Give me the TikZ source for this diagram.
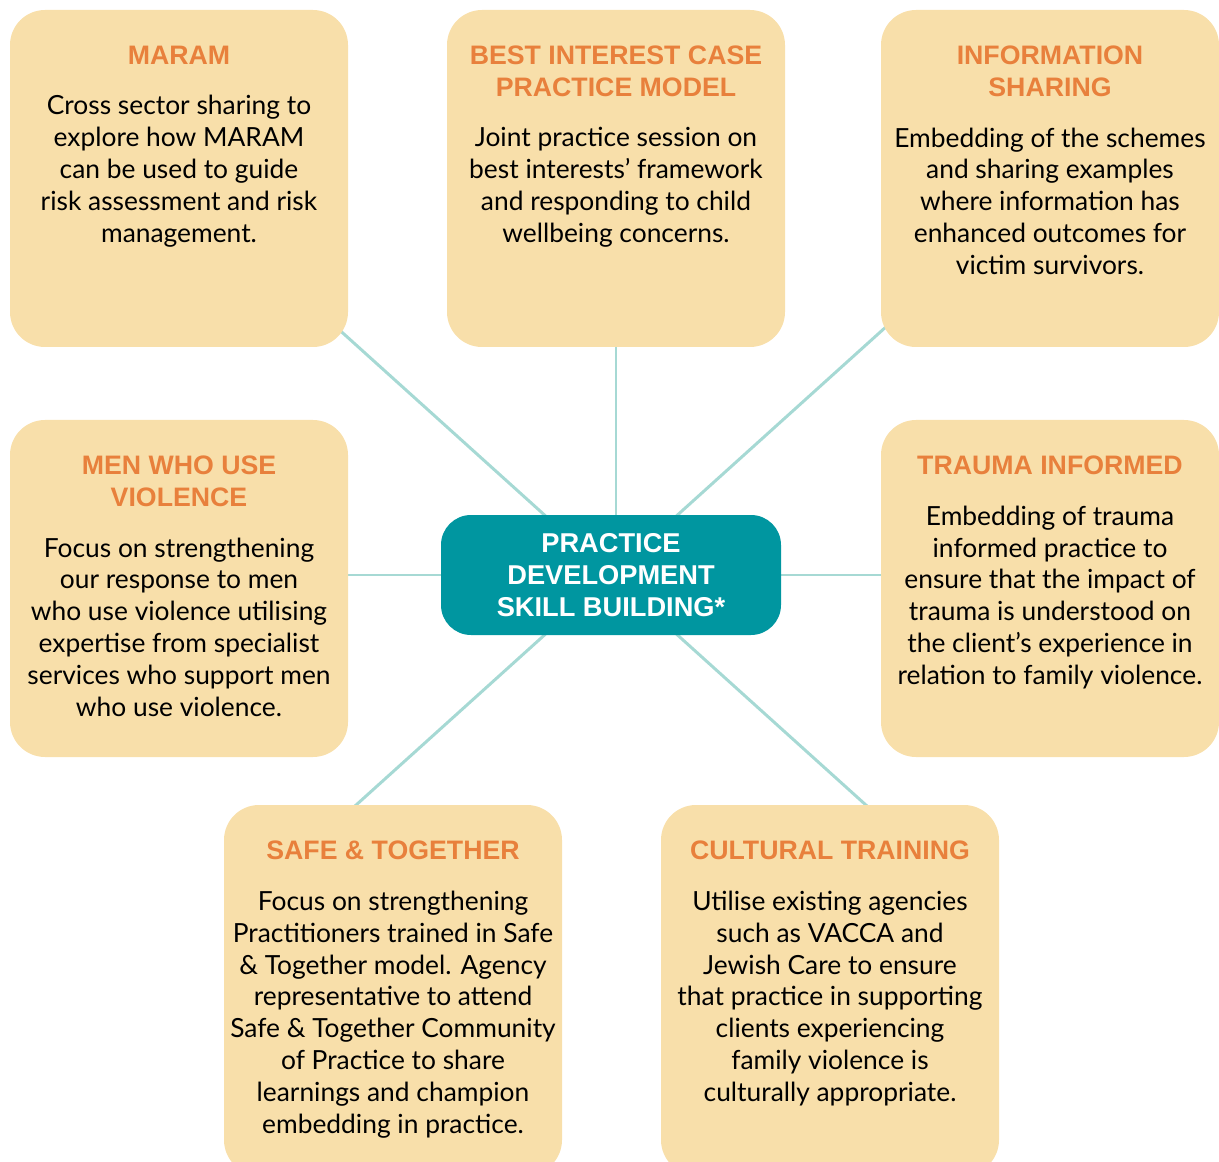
\documentclass[tikz,border=0pt]{standalone}
\usepackage{fontspec}
\setmainfont{Lato}
\newfontfamily\headfont{Liberation Sans}
\usepackage{tikz}
\usetikzlibrary{positioning,backgrounds}
\definecolor{cardfill}{RGB}{248,223,170}
\definecolor{heading}{RGB}{232,128,60}
\definecolor{hubfill}{RGB}{0,150,160}
\definecolor{spoke}{RGB}{166,217,212}

\begin{document}
\begin{tikzpicture}[
  card/.style={fill=cardfill, rounded corners=0.7cm, minimum width=6.76cm, minimum height=6.74cm, inner sep=0pt},
  hub/.style={fill=hubfill, rounded corners=0.6cm, minimum width=6.8cm, minimum height=2.4cm, align=center, text=white, font=\headfont\bfseries\fontsize{15.5}{18.2}\selectfont},
  title/.style={inner sep=0pt, align=center, text=heading, font=\headfont\bfseries\fontsize{15.2}{18.2}\selectfont},
  body/.style={inner sep=0pt, align=center, font=\fontsize{15}{18.2}\selectfont},
  link/.style={draw=spoke, line width=1.7pt}
]
\useasboundingbox (0,0) rectangle (24.38,-23.24);

% cards around the hub
\node[card] (maram) at (3.58,-3.57) {};
\node[card] (best) at (12.32,-3.57) {};
\node[card] (info) at (21.00,-3.57) {};
\node[card] (men) at (3.58,-11.77) {};
\node[card] (trauma) at (21.00,-11.77) {};
\node[card, minimum height=7.4cm] (safe) at (7.86,-19.80) {};
\node[card, minimum height=7.4cm] (cult) at (16.60,-19.80) {};
\node[hub] (hub) at (12.22,-11.50) {PRACTICE\\DEVELOPMENT\\SKILL BUILDING*};

% headings and texts
\node[title, below=0.72cm of maram.north] (maram-t) {MARAM};
\node[body, below=0.6cm of maram-t] (maram-b) {Cross sector sharing to\\explore how MARAM\\can be used to guide\\risk assessment and risk\\management.};
\node[title, below=0.72cm of best.north] (best-t) {BEST INTEREST CASE\\PRACTICE MODEL};
\node[body, below=0.6cm of best-t] (best-b) {Joint practice session on\\best interests’ framework\\and responding to child\\wellbeing concerns.};
\node[title, below=0.72cm of info.north] (info-t) {INFORMATION\\SHARING};
\node[body, below=0.6cm of info-t] (info-b) {Embedding of the schemes\\and sharing examples\\where information has\\enhanced outcomes for\\victim survivors.};
\node[title, below=0.72cm of men.north] (men-t) {MEN WHO USE\\VIOLENCE};
\node[body, below=0.6cm of men-t] (men-b) {Focus on strengthening\\our response to men\\who use violence utilising\\expertise from specialist\\services who support men\\who use violence.};
\node[title, below=0.72cm of trauma.north] (trauma-t) {TRAUMA INFORMED};
\node[body, below=0.6cm of trauma-t] (trauma-b) {Embedding of trauma\\informed practice to\\ensure that the impact of\\trauma is understood on\\the client’s experience in\\relation to family violence.};
\node[title, below=0.72cm of safe.north] (safe-t) {SAFE \& TOGETHER};
\node[body, below=0.6cm of safe-t] (safe-b) {Focus on strengthening\\Practitioners trained in Safe\\\& Together model. Agency\\representative to attend\\Safe \& Together Community\\of Practice to share\\learnings and champion\\embedding in practice.};
\node[title, below=0.72cm of cult.north] (cult-t) {CULTURAL TRAINING};
\node[body, below=0.6cm of cult-t] (cult-b) {Utilise existing agencies\\such as VACCA and\\Jewish Care to ensure\\that practice in supporting\\clients experiencing\\family violence is\\culturally appropriate.};

% spokes
\coordinate (maram-end) at (6.28,-6.14);
\coordinate (info-end) at (18.16,-6.14);
\coordinate (safe-end) at (6.28,-16.86);
\coordinate (cult-end) at (18.16,-16.86);
\begin{scope}[on background layer]
\draw[link] (hub.center) -- (maram-end);
\draw[link] (hub.center) -- (info-end);
\draw[link] (hub.center) -- (safe-end);
\draw[link] (hub.center) -- (cult-end);
\draw[link] (best) -- (best |- hub.center);
\draw[link] (hub) -- (hub -| men);
\draw[link] (hub) -- (hub -| trauma);
\end{scope}
\end{tikzpicture}
\end{document}
